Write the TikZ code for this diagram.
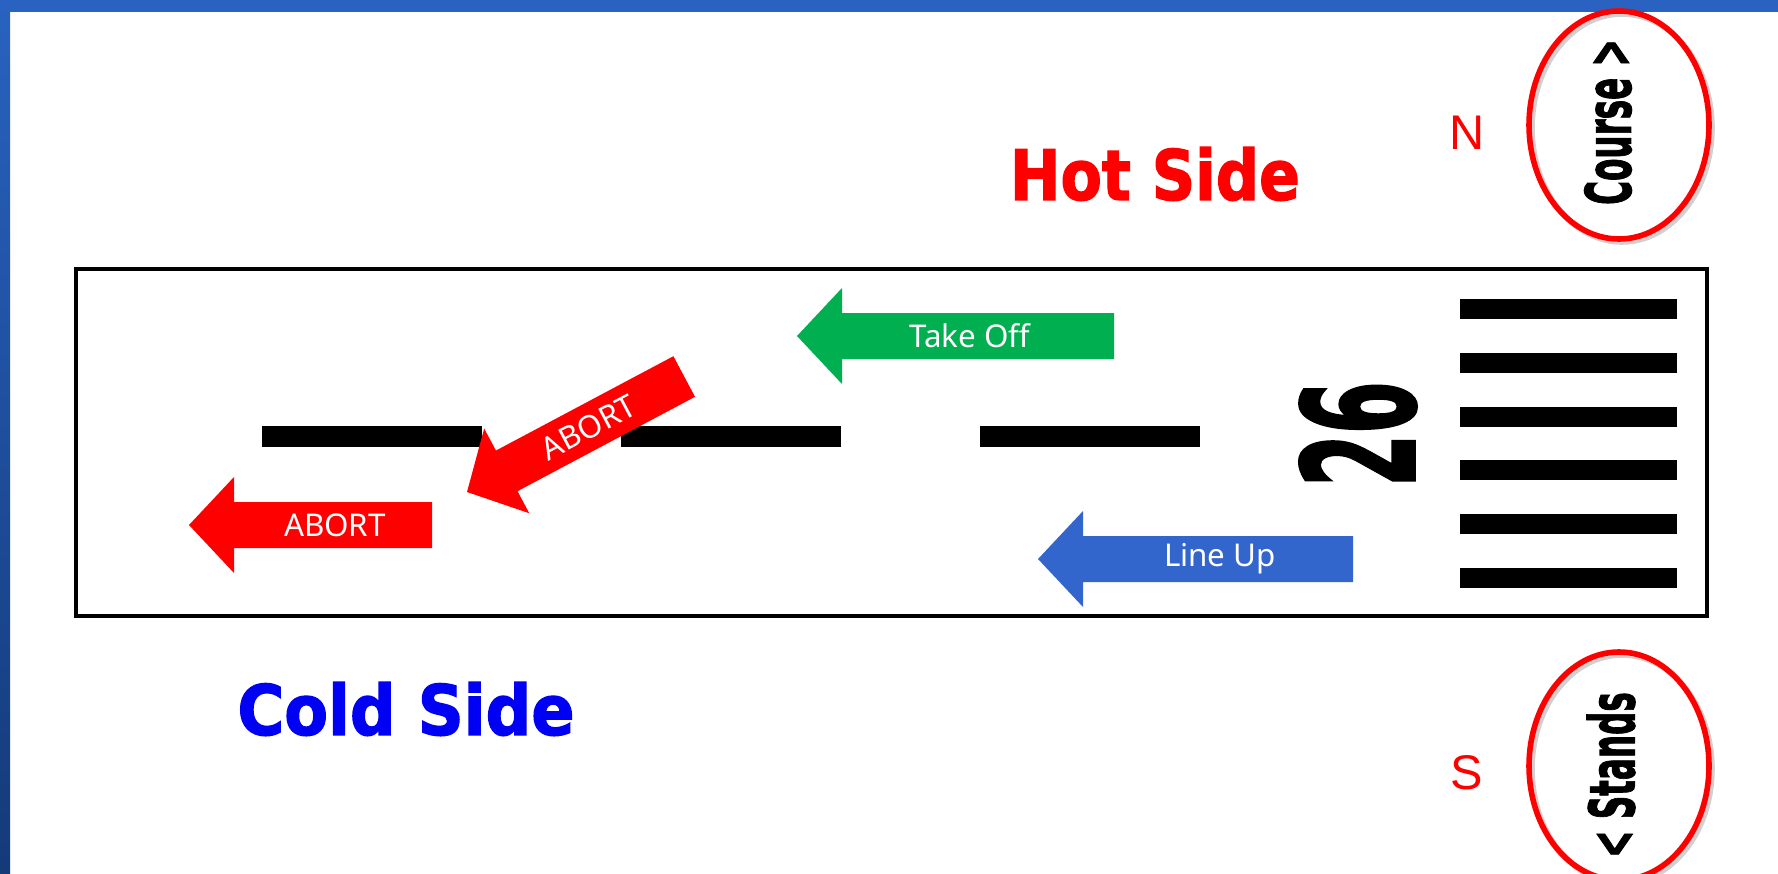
\documentclass[tikz,border=0pt]{standalone}
\usepackage{fontspec}
\setmainfont{Noto Sans}
\newfontfamily\labelfont{Noto Sans}
\newfontfamily\heavyfont{DejaVu Sans}[FakeBold=2]
\newfontfamily\compassfont{Liberation Sans}

\definecolor{frameblue}{HTML}{2962C0}
\definecolor{frameblueDark}{HTML}{143A78}
\definecolor{takeoffgreen}{HTML}{00B050}
\definecolor{lineupblue}{HTML}{3366CC}
\definecolor{abortred}{HTML}{FF0000}
\definecolor{coldblue}{HTML}{0000F5}

\tikzset{
  runway/.style={draw=black, line width=3pt},
  bar/.style={fill=black},
  arrowtext/.style={text=white, font=\labelfont\fontsize{23.5}{27}\selectfont, inner sep=0pt},
  sidelabel/.style={font=\heavyfont\bfseries\fontsize{52}{60}\selectfont, inner sep=0pt},
  compass/.style={text=red, font=\compassfont\fontsize{36.5}{40}\selectfont, inner sep=0pt},
  marker/.style={draw=red, line width=4.2pt},
  markershadow/.style={draw=black!18, line width=4.2pt},
  markertext/.style={font=\heavyfont\bfseries\fontsize{47}{52}\selectfont, inner sep=0pt, rotate=90},
}

% a flat block arrow, tip at (#2,#3), body running off at angle #4,
% label #7 shifted by #8 along the shaft
\newcommand\flightarrow[8]{%
  \begin{scope}[shift={(#2,#3)}, rotate=#4]
    \fill[#6] (0,0) -- (45,-48) -- (45,-23) -- (#5,-23) -- (#5,23)
      -- (45,23) -- (45,48) -- cycle;
    \node[arrowtext, rotate=#4] (#1) at ({(45+#5)/2+#8},0) {#7};
  \end{scope}}

\begin{document}
\begin{tikzpicture}[x=0.75pt, y=-0.75pt]
  \path[use as bounding box] (0,0) rectangle (1778,874);
  \clip (0,0) rectangle (1778,874);
  \fill[white] (0,0) rectangle (1778,874);

  % slide frame
  \shade[top color=frameblue, bottom color=frameblueDark] (0,0) rectangle (10,874);
  \fill[frameblue] (0,0) rectangle (1778,12);

  % runway outline
  \draw[runway] (76,269) rectangle (1707,616);

  % centre line
  \foreach \xa in {262,621,980}
    \fill[bar] (\xa,426) rectangle ({\xa+220},447);

  % threshold bars
  \foreach \i in {0,...,5}
    \fill[bar] (1460,{299+53.8*\i}) rectangle (1677,{319+53.8*\i});

  % runway number
  \node[font=\heavyfont\bfseries\fontsize{116}{120}\selectfont, inner sep=0pt, rotate=90]
    (rwy) at (1358,434) {\scalebox{0.49}[1]{26}};

  % movement arrows
  \flightarrow{takeoff}{797}{336}{0}{317}{takeoffgreen}{Take Off}{-8}
  \flightarrow{lineup}{1038}{559}{0}{315}{lineupblue}{Line Up}{2}
  \flightarrow{abortlow}{189}{525}{0}{243}{abortred}{ABORT}{2}
  \flightarrow{abortdiag}{467}{492}{28}{246}{abortred}{ABORT}{-8}

  % side labels
  \node[sidelabel, text=abortred] (hot) at (1155,174) {\scalebox{0.87}[1]{Hot Side}};
  \node[sidelabel, text=coldblue] (cold) at (406,709) {\scalebox{0.92}[1]{Cold Side}};

  % compass letters
  \node[compass] (north) at (1467,133) {N};
  \node[compass] (south) at (1467,773) {S};

  % direction markers
  \draw[markershadow] (1622,128) ellipse [x radius=90, y radius=114];
  \draw[marker] (1619,125) ellipse [x radius=90, y radius=114];
  \node[markertext] (course) at (1608,122) {\scalebox{0.52}[1]{Course >}};

  \draw[markershadow] (1622,769) ellipse [x radius=90, y radius=114];
  \draw[marker] (1619,766) ellipse [x radius=90, y radius=114];
  \node[markertext] (stands) at (1611,775) {\scalebox{0.52}[1]{< Stands}};
\end{tikzpicture}
\end{document}
